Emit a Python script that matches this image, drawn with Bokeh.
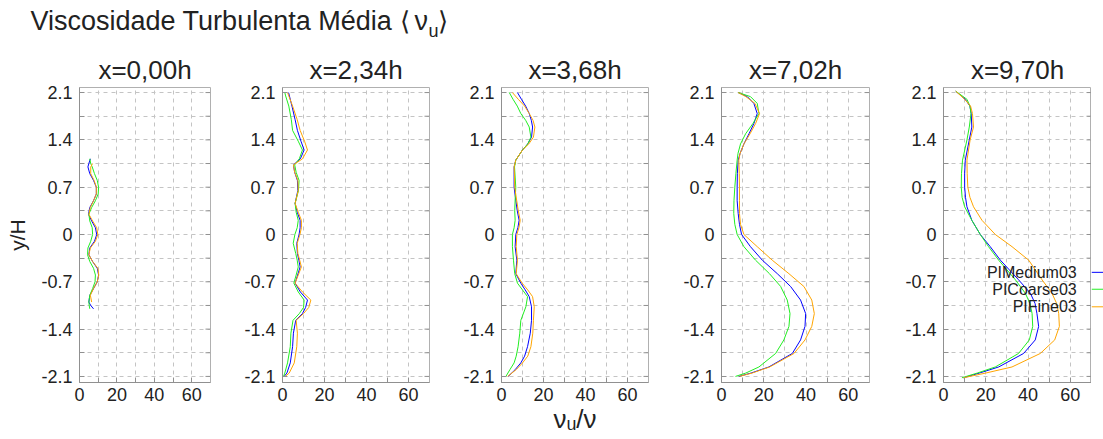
import math
from bokeh.plotting import figure
from bokeh.layouts import column, row
from bokeh.models import Range1d, FixedTicker, Label
from bokeh.embed import file_html
from bokeh.resources import INLINE

NAN = float("nan")

panel_titles = ["x=0,00h", "x=2,34h", "x=3,68h", "x=7,02h", "x=9,70h"]
series_names = ["PIMedium03", "PICoarse03", "PIFine03"]
series_colors = ["#0000ff", "#22ee22", "#ffa500"]

y_ticks = [-2.1, -1.4, -0.7, 0, 0.7, 1.4, 2.1]
y_tick_labels = ["-2.1", "-1.4", "-0.7", "0", "0.7", "1.4", "2.1"]
y_minor = [-1.75, -1.05, -0.35, 0.35, 1.05, 1.75]
x_ticks = [0, 20, 40, 60]
x_tick_labels = ["0", "20", "40", "60"]
x_minor = [10, 30, 50]

# ---- x = 0,00h ----
p1_y = [1.12, 1.05, 1.0, 0.9, 0.8, 0.7, 0.6, 0.5, 0.4, 0.3, 0.2, 0.1, 0.0,
        -0.1, -0.2, -0.3, -0.4, -0.5, -0.6, -0.7, -0.8, -0.9, -1.0, -1.05, -1.1]
p1_medium = [5.8, 5.0, 4.5, 5.5, 7.5, 9.0, 9.0, 7.5, 5.5, 4.8, 6.5, 8.5, 9.2,
             8.0, 5.5, 5.0, 7.0, 9.5, 10.2, 9.5, 7.5, 5.5, 5.0, 6.0, 7.5]
p1_coarse = [5.5, 6.0, 6.8, 8.0, 9.5, 10.2, 10.0, 8.5, 6.5, 5.0, 5.5, 6.8, 7.0,
             6.0, 4.5, 4.3, 5.5, 7.5, 8.5, 8.3, 7.0, 5.5, 5.0, 5.2, 5.5]
p1_fine = [NAN, 7.0, 6.0, 6.0, 7.8, 9.0, 9.0, 7.5, 5.8, 5.0, 7.0, 9.2, 9.8,
           8.5, 5.8, 5.0, 7.0, 9.8, 10.3, 9.5, 7.5, 5.8, 6.5, NAN, NAN]

# ---- x = 2,34h ----
p2_y = [2.1, 2.05, 1.9, 1.7, 1.54, 1.38, 1.25, 1.12, 1.03, 0.92, 0.8, 0.65, 0.46,
        0.33, 0.21, 0.1, 0.0, -0.13, -0.28, -0.38, -0.48, -0.6, -0.72, -0.85,
        -0.97, -1.08, -1.17, -1.27, -1.46, -1.66, -1.9, -2.05, -2.1]
p2_medium = [2.9, 3.3, 4.5, 6.0, 7.1, 8.8, 10.3, 8.5, 5.2, 5.8, 7.1, 7.3, 6.0,
             7.0, 8.4, 8.4, 7.9, 6.8, 7.1, 7.8, 8.4, 7.2, 6.0, 8.5,
             11.9, 11.0, 9.5, 6.3, 5.2, 4.8, 3.7, 2.1, 0.8]
p2_coarse = [1.1, 1.5, 3.0, 4.2, 4.8, 7.5, 9.5, 8.0, 5.8, 6.5, 7.9, 7.6, 6.0,
             6.5, 7.5, 7.0, 5.9, 5.1, 6.3, 7.0, 7.5, 6.5, 5.4, 7.5,
             10.3, 10.0, 8.0, 5.0, 4.0, 3.7, 2.4, 1.1, 0.5]
p2_fine = [2.4, 3.0, 4.8, 7.0, 8.4, 10.5, 11.9, 9.5, 5.2, 5.8, 7.3, 7.5, 6.0,
           7.5, 9.0, 9.0, 8.3, 7.0, 7.3, 8.2, 9.0, 7.5, 6.0, 9.5,
           13.5, 12.5, 10.0, 6.5, 7.1, 6.8, 5.6, 3.2, 1.3]

# ---- x = 3,68h ----
p3_y = [2.1, 2.0, 1.9, 1.79, 1.69, 1.59, 1.44, 1.34, 1.25, 1.1, 1.0, 0.85, 0.7,
        0.51, 0.35, 0.21, 0.1, 0.0, -0.18, -0.38, -0.58, -0.72, -0.82, -0.92,
        -1.07, -1.27, -1.46, -1.66, -1.8, -1.9, -2.0, -2.1]
p3_medium = [7.6, 9.5, 11.5, 13.2, 14.2, 14.8, 14.3, 12.5, 10.0, 6.8, 6.0, 6.0, 6.0,
             6.8, 7.5, 8.4, 7.8, 6.8, 6.5, 7.3, 6.8, 9.2, 11.3, 13.2,
             14.3, 14.3, 13.7, 12.4, 11.0, 9.2, 6.5, 3.2]
p3_coarse = [3.7, 5.5, 7.5, 9.2, 11.5, 13.2, 14.0, 12.5, 10.0, 6.8, 6.2, 6.5, 6.8,
             6.5, 6.3, 6.5, 6.0, 5.2, 5.2, 5.7, 6.3, 7.6, 10.0, 12.4,
             11.6, 9.2, 8.7, 7.9, 7.0, 6.0, 4.0, 2.1]
p3_fine = [5.2, 8.0, 11.0, 13.2, 15.0, 15.9, 15.2, 13.0, 10.0, 6.8, 6.0, 6.2, 6.3,
           7.2, 8.0, 8.9, 8.3, 7.3, 7.0, 7.6, 7.0, 9.8, 12.5, 14.8,
           15.6, 15.2, 14.9, 14.0, 12.5, 10.0, 7.0, 2.9]

# ---- x = 7,02h ----
p4_y = [2.1, 2.04, 1.94, 1.79, 1.64, 1.49, 1.34, 1.2, 1.1, 0.9, 0.7, 0.5, 0.31,
        0.15, 0.0, -0.18, -0.38, -0.58, -0.77, -0.97, -1.17, -1.36, -1.56,
        -1.76, -1.96, -2.05, -2.1]
p4_medium = [7.9, 12.2, 15.3, 16.9, 15.3, 13.0, 10.6, 8.8, 7.9, 7.5, 7.4, 7.4, 7.9,
             8.5, 9.5, 13.7, 19.3, 26.4, 32.7, 37.4, 39.8, 39.5, 37.4,
             33.5, 22.4, 14.0, 8.2]
p4_coarse = [7.9, 13.7, 16.9, 17.7, 14.8, 11.4, 9.0, 7.8, 7.4, 6.8, 6.3, 5.9, 5.8,
             6.3, 7.4, 10.6, 16.1, 22.7, 28.0, 31.1, 32.4, 31.9, 29.5,
             25.6, 17.7, 11.5, 6.6]
p4_fine = [7.9, 11.5, 15.8, 18.0, 16.1, 13.5, 10.6, 8.8, 8.2, 8.4, 8.5, 8.5, 8.5,
           9.0, 10.6, 16.9, 24.0, 31.9, 39.0, 42.7, 43.9, 42.7, 39.5,
           34.3, 22.8, 14.5, 8.5]

# ---- x = 9,70h ----
p5_y = [2.12, 2.0, 1.9, 1.79, 1.59, 1.4, 1.1, 0.9, 0.7, 0.55, 0.41, 0.21, 0.0,
        -0.18, -0.38, -0.67, -0.87, -1.02, -1.17, -1.36, -1.56, -1.76, -1.96,
        -2.05, -2.12]
p5_medium = [5.8, 10.3, 12.5, 13.1, 13.4, 12.2, 10.3, 10.0, 10.0, 10.4, 11.1, 13.4, 17.4,
             22.1, 26.9, 35.5, 41.1, 43.3, 44.2, 45.0, 43.4, 37.9, 26.1,
             17.0, 9.5]
p5_coarse = [5.8, 11.1, 12.5, 13.0, 12.2, 11.1, 9.0, 8.5, 8.4, 8.8, 10.0, 13.4, 17.4,
             21.3, 26.1, 34.0, 38.7, 40.9, 41.9, 42.2, 40.6, 35.5, 24.5,
             16.0, 8.7]
p5_fine = [5.8, 10.0, 12.8, 13.7, 14.2, 12.6, 11.1, 11.2, 11.5, 12.5, 14.2, 18.2, 24.5,
           32.4, 40.3, 46.6, 51.3, 53.5, 54.5, 54.8, 52.6, 45.8, 32.4,
           20.0, 9.5]

panels = [
    (p1_y, [p1_medium, p1_coarse, p1_fine]),
    (p2_y, [p2_medium, p2_coarse, p2_fine]),
    (p3_y, [p3_medium, p3_coarse, p3_fine]),
    (p4_y, [p4_medium, p4_coarse, p4_fine]),
    (p5_y, [p5_medium, p5_coarse, p5_fine]),
]

FONT = "Liberation Sans"
TXT = "#222222"
GRID = "#c4c4c4"
TICKC = "#909090"
Y0, Y1 = -2.19, 2.175
FRAME_H = 295
TOP_B = 42
BOT_B = 57

# (left border, frame width, right border) per panel
geom = [(79, 131, 30), (42, 147, 31), (41, 147, 32), (39, 148, 33), (38, 148, 0)]

figs = []
for i, (yv, series) in enumerate(panels):
    lb, fw, rb = geom[i]
    p = figure(frame_width=fw, frame_height=FRAME_H,
               min_border_left=lb, min_border_right=rb,
               min_border_top=TOP_B, min_border_bottom=BOT_B,
               x_range=Range1d(0, 70), y_range=Range1d(Y0, Y1),
               output_backend="svg", toolbar_location=None,
               title=panel_titles[i])
    p.title.align = "center"
    p.title.text_font = FONT
    p.title.text_font_size = "26px"
    p.title.text_font_style = "normal"
    p.title.text_color = TXT
    p.title.standoff = 5
    p.outline_line_color = "#b0b0b0"
    p.background_fill_color = "white"
    p.border_fill_color = "white"

    xa = p.xaxis[0]
    ya = p.yaxis[0]
    xa.ticker = FixedTicker(ticks=x_ticks, minor_ticks=x_minor)
    ya.ticker = FixedTicker(ticks=y_ticks, minor_ticks=y_minor)
    xa.major_label_overrides = {t: s for t, s in zip(x_ticks, x_tick_labels)}
    ya.major_label_overrides = {t: s for t, s in zip(y_ticks, y_tick_labels)}
    for ax in (xa, ya):
        ax.major_tick_in = 5
        ax.major_tick_out = 0
        ax.minor_tick_in = 5
        ax.minor_tick_out = 0
        ax.axis_line_color = TICKC
        ax.major_tick_line_color = TICKC
        ax.minor_tick_line_color = TICKC
        ax.major_label_text_font = FONT
        ax.major_label_text_font_size = "18px"
        ax.major_label_text_color = TXT
    xa.major_label_standoff = 5
    ya.major_label_standoff = 7

    # mirrored ticks on the right edge of the frame
    all_y_ticks = sorted(y_ticks + y_minor)
    p.ray(x=[70] * len(all_y_ticks), y=all_y_ticks, length=5, length_units="screen",
          angle=math.pi, line_color=TICKC, line_width=1)

    for g in (p.xgrid[0], p.ygrid[0]):
        g.grid_line_color = GRID
        g.grid_line_dash = "4 4"
        g.minor_grid_line_color = GRID
        g.minor_grid_line_dash = "4 4"

    for vals, name, col in zip(series, series_names, series_colors):
        p.line(x=vals, y=yv, line_color=col, line_width=1)

    if i == 0:
        ya.axis_label = "y/H"
        ya.axis_label_text_font = FONT
        ya.axis_label_text_font_size = "21px"
        ya.axis_label_text_font_style = "normal"
        ya.axis_label_text_color = TXT
        ya.axis_label_standoff = 9

    if i == 2:
        xa.axis_label = "νᵤ/ν"
        xa.axis_label_text_font = FONT
        xa.axis_label_text_font_size = "26px"
        xa.axis_label_text_font_style = "normal"
        xa.axis_label_text_color = TXT
        xa.axis_label_standoff = 0

    if i == 4:
        leg_y = [-0.56, -0.81, -1.07]
        for name, ly in zip(series_names, leg_y):
            p.add_layout(Label(x=63.0, y=ly, text=name, text_align="right",
                               text_baseline="middle", text_font=FONT,
                               text_font_size="16px", text_color=TXT))
    figs.append(p)

# legend line samples, just right of the last panel
lf = figure(frame_width=17, frame_height=FRAME_H, min_border_left=0, min_border_right=0,
            min_border_top=TOP_B, min_border_bottom=BOT_B,
            x_range=Range1d(0, 1), y_range=Range1d(Y0, Y1),
            x_axis_location=None, y_axis_location=None,
            output_backend="svg", toolbar_location=None)
lf.grid.visible = False
lf.outline_line_color = None
lf.segment(x0=[0, 0, 0], y0=leg_y, x1=[1, 1, 1], y1=leg_y,
           line_color=series_colors, line_width=1)
figs.append(lf)

# main title
tf = figure(width=1103, height=45, x_range=Range1d(0, 1103), y_range=Range1d(0, 45),
            x_axis_location=None, y_axis_location=None, min_border=0,
            output_backend="svg", toolbar_location=None)
tf.grid.visible = False
tf.outline_line_color = None
tf.add_layout(Label(x=30, y=10, text="Viscosidade Turbulenta Média", text_font=FONT,
                    text_font_size="27px", text_color=TXT))
tf.add_layout(Label(x=399, y=10, text="⟨", text_font=FONT,
                    text_font_size="26px", text_color=TXT))
tf.add_layout(Label(x=414, y=10, text="ν", text_font=FONT,
                    text_font_size="27px", text_color=TXT))
tf.add_layout(Label(x=428, y=5, text="u", text_font=FONT,
                    text_font_size="18px", text_color=TXT))
tf.add_layout(Label(x=437, y=10, text="⟩", text_font=FONT,
                    text_font_size="26px", text_color=TXT))

layout = column(tf, row(*figs))
open("out.html", "w").write(file_html(layout, INLINE))
